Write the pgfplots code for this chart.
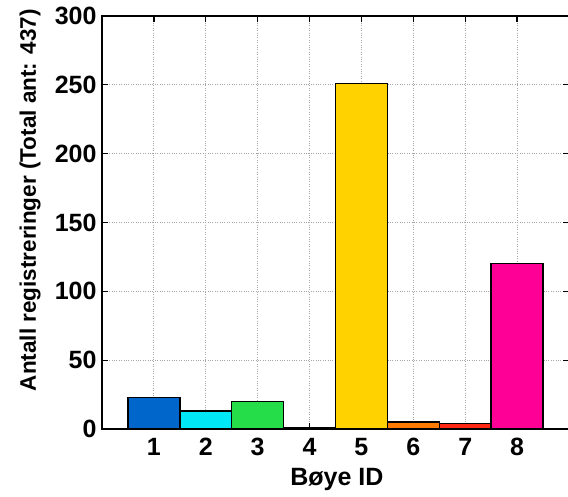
\documentclass[border=0pt]{standalone}
\usepackage{fontspec}
\setmainfont{Liberation Sans}
\usepackage{pgfplots}
\pgfplotsset{compat=1.18}
\definecolor{c1}{RGB}{0,102,204}
\definecolor{c2}{RGB}{0,232,248}
\definecolor{c3}{RGB}{36,221,72}
\definecolor{c4}{RGB}{150,220,0}
\definecolor{c5}{RGB}{255,210,0}
\definecolor{c6}{RGB}{255,122,0}
\definecolor{c7}{RGB}{255,40,20}
\definecolor{c8}{RGB}{255,0,150}
\begin{document}
\begin{tikzpicture}
\useasboundingbox (0pt,0pt) rectangle (568pt,497pt);
\clip (0pt,0pt) rectangle (568pt,497pt);
\begin{axis}[
  at={(102pt,68pt)}, anchor=south west,
  scale only axis, width=467pt, height=413pt,
  xmin=0, xmax=9, ymin=0, ymax=300,
  xtick={1,...,8}, ytick={0,50,...,300},
  grid=major, major grid style={gray!70, dotted, line width=0.9pt},
  tick align=inside, major tick length=6pt,
  axis line style={line width=1.6pt},
  tick style={black, line width=1.3pt},
  ticklabel style={font=\fontsize{25}{29}\selectfont\bfseries},
  xticklabel style={yshift=-6pt},
  yticklabel style={xshift=-2pt},
  /pgf/number format/assume math mode=true,
  xlabel={Bøye ID},
  ylabel={Antall registreringer (Total ant: 437)},
  xlabel style={font=\fontsize{25}{29}\selectfont\bfseries, at={(axis description cs:0.503,-0.123)}, anchor=center},
  ylabel style={font=\fontsize{22.5}{27}\selectfont\bfseries, at={(axis description cs:-0.154,0.554)}, anchor=center},
]
\addplot[ybar, bar width=1, bar shift=0pt, fill=c1, draw=black, line width=1.4pt] coordinates {(1,23)};
\addplot[ybar, bar width=1, bar shift=0pt, fill=c2, draw=black, line width=1.4pt] coordinates {(2,13)};
\addplot[ybar, bar width=1, bar shift=0pt, fill=c3, draw=black, line width=1.4pt] coordinates {(3,20)};
\addplot[ybar, bar width=1, bar shift=0pt, fill=c4, draw=black, line width=1.4pt] coordinates {(4,1)};
\addplot[ybar, bar width=1, bar shift=0pt, fill=c5, draw=black, line width=1.4pt] coordinates {(5,251)};
\addplot[ybar, bar width=1, bar shift=0pt, fill=c6, draw=black, line width=1.4pt] coordinates {(6,5)};
\addplot[ybar, bar width=1, bar shift=0pt, fill=c7, draw=black, line width=1.4pt] coordinates {(7,4)};
\addplot[ybar, bar width=1, bar shift=0pt, fill=c8, draw=black, line width=1.4pt] coordinates {(8,120)};
\end{axis}
\end{tikzpicture}
\end{document}
